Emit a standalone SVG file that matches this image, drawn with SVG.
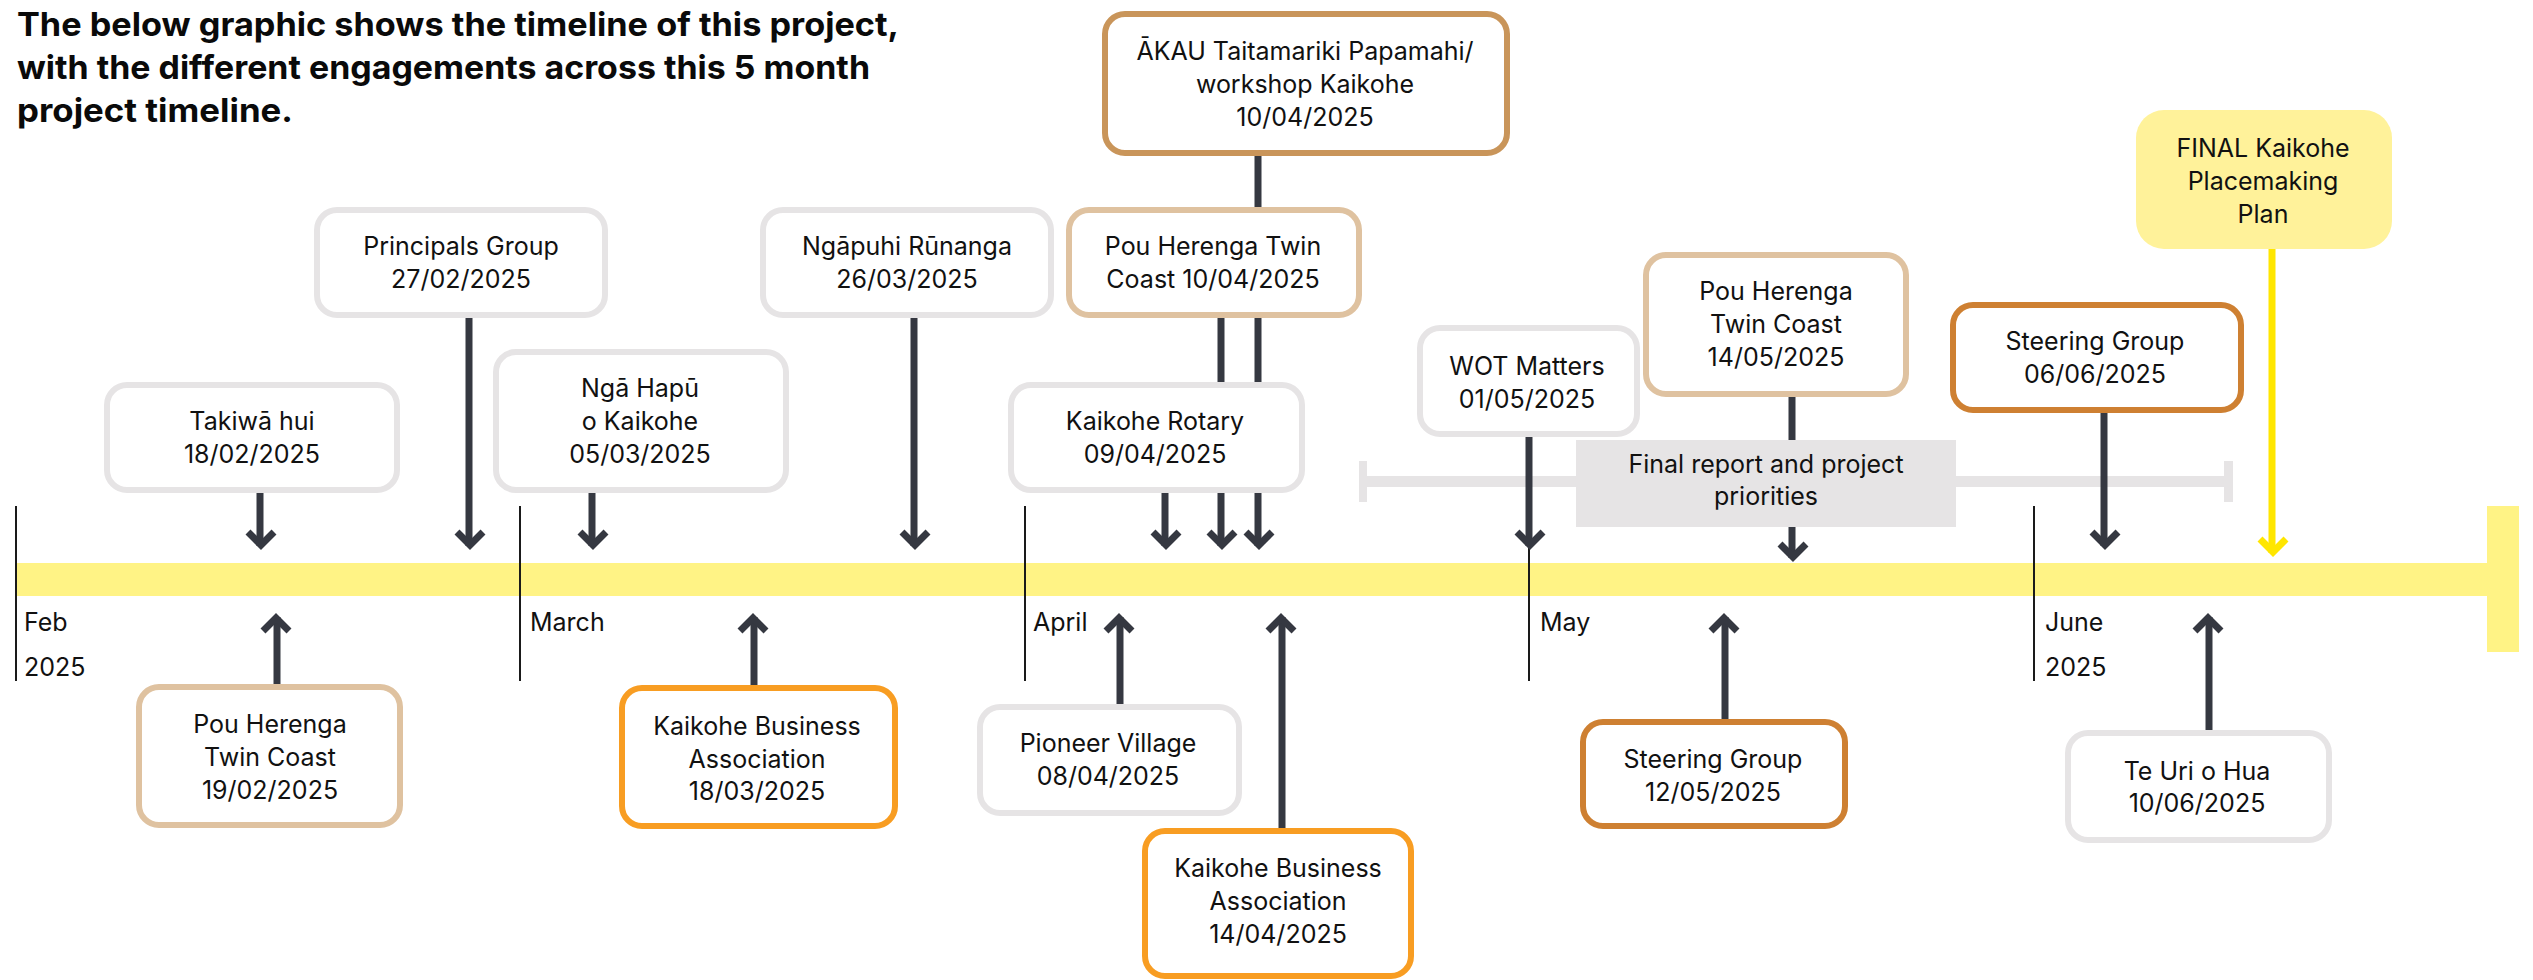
<svg xmlns="http://www.w3.org/2000/svg" width="2533" height="980" viewBox="0 0 2533 980">
<defs>
<style>
.t{font-family:Inter,"Liberation Sans",sans-serif;font-size:25px;fill:#111;text-anchor:middle}
.title{font-family:Inter,"Liberation Sans",sans-serif;font-size:33px;font-weight:700;fill:#0a0a0a}
.mon{font-family:Inter,"Liberation Sans",sans-serif;font-size:25px;fill:#111}
.box{fill:#fff;stroke-width:6}
.grey{stroke:#E6E4E5}
.tan{stroke:#DFC2A0}
.orange{stroke:#F89D22}
.bronze{stroke:#CE8032}
.akau{stroke:#C9955A}
.arr{stroke:#353841;stroke-width:7;fill:none;marker-end:url(#ah)}
.arry{stroke:#FFE600;stroke-width:7;fill:none;marker-end:url(#ahy)}
.tick{stroke:#1a1a1a;stroke-width:2}
</style>
<marker id="ah" viewBox="-20 -20 40 40" markerWidth="40" markerHeight="40" refX="0" refY="0" orient="auto" markerUnits="userSpaceOnUse">
<path d="M-14,-14 L-1,-1 L-14,12" fill="none" stroke="#353841" stroke-width="7"/>
</marker>
<marker id="ahy" viewBox="-20 -20 40 40" markerWidth="40" markerHeight="40" refX="0" refY="0" orient="auto" markerUnits="userSpaceOnUse">
<path d="M-14,-14 L-1,-1 L-14,12" fill="none" stroke="#FFE600" stroke-width="7"/>
</marker>
</defs>
<rect width="2533" height="980" fill="#fff"/>

<g id="title">
<text class="title" x="17" y="36" textLength="882" lengthAdjust="spacingAndGlyphs">The below graphic shows the timeline of this project,</text>
<text class="title" x="17" y="79" textLength="853" lengthAdjust="spacingAndGlyphs">with the different engagements across this 5 month</text>
<text class="title" x="17" y="122" textLength="276" lengthAdjust="spacingAndGlyphs">project timeline.</text>
</g>

<g id="timeline">
<rect x="16" y="563" width="2472" height="33" fill="#FFF385"/>
<rect x="2487" y="506" width="32" height="146" fill="#FFF385"/>
<line class="tick" x1="16" y1="506" x2="16" y2="681"/>
<line class="tick" x1="520" y1="506" x2="520" y2="681"/>
<line class="tick" x1="1025" y1="506" x2="1025" y2="681"/>
<line class="tick" x1="1529" y1="506" x2="1529" y2="681"/>
<line class="tick" x1="2034" y1="506" x2="2034" y2="681"/>
<text class="mon" x="24" y="631">Feb</text>
<text class="mon" x="24" y="676">2025</text>
<text class="mon" x="530" y="631">March</text>
<text class="mon" x="1033" y="631">April</text>
<text class="mon" x="1540" y="631">May</text>
<text class="mon" x="2045" y="631">June</text>
<text class="mon" x="2045" y="676">2025</text>
</g>

<g id="bracket" fill="#E6E4E5">
<rect x="1363" y="476" width="866" height="11"/>
<rect x="1359" y="461" width="8" height="41"/>
<rect x="2224" y="461" width="9" height="41"/>
</g>

<g id="connectors">
<path class="arr" d="M260,490 V546"/>
<path class="arr" d="M469,318 V546"/>
<path class="arr" d="M592,490 V546"/>
<path class="arr" d="M914,318 V546"/>
<path class="arr" d="M1165,490 V546"/>
<path class="arr" d="M1221,318 V546"/>
<path class="arr" d="M1258,156 V546"/>
<path class="arr" d="M1529,437 V546"/>
<path class="arr" d="M1792,397 V558"/>
<path class="arr" d="M2104,413 V546"/>
<path class="arry" d="M2272,249 V553"/>
<path class="arr" d="M277,684 V617"/>
<path class="arr" d="M754,685 V617"/>
<path class="arr" d="M1120,704 V617"/>
<path class="arr" d="M1282,828 V617"/>
<path class="arr" d="M1725,719 V617"/>
<path class="arr" d="M2209,730 V617"/>
</g>

<g id="n-takiwa">
<rect class="box grey" x="107" y="385" width="290" height="105" rx="20"/>
<text class="t" x="252" y="430">Takiwā hui</text>
<text class="t" x="252" y="463">18/02/2025</text>
</g>
<g id="n-principals">
<rect class="box grey" x="317" y="210" width="288" height="105" rx="20"/>
<text class="t" x="461" y="255">Principals Group</text>
<text class="t" x="461" y="288">27/02/2025</text>
</g>
<g id="n-ngahapu">
<rect class="box grey" x="496" y="352" width="290" height="138" rx="20"/>
<text class="t" x="640" y="397">Ngā Hapū</text>
<text class="t" x="640" y="430">o Kaikohe</text>
<text class="t" x="640" y="463">05/03/2025</text>
</g>
<g id="n-ngapuhi">
<rect class="box grey" x="763" y="210" width="288" height="105" rx="20"/>
<text class="t" x="907" y="255">Ngāpuhi Rūnanga</text>
<text class="t" x="907" y="288">26/03/2025</text>
</g>
<g id="n-akau">
<rect class="box akau" x="1105" y="14" width="402" height="139" rx="20"/>
<text class="t" x="1305" y="60">ĀKAU Taitamariki Papamahi/</text>
<text class="t" x="1305" y="93">workshop Kaikohe</text>
<text class="t" x="1305" y="126">10/04/2025</text>
</g>
<g id="n-pou1004">
<rect class="box tan" x="1069" y="210" width="290" height="105" rx="20"/>
<text class="t" x="1213" y="255">Pou Herenga Twin</text>
<text class="t" x="1213" y="288">Coast 10/04/2025</text>
</g>
<g id="n-rotary">
<rect class="box grey" x="1011" y="385" width="291" height="105" rx="20"/>
<text class="t" x="1155" y="430">Kaikohe Rotary</text>
<text class="t" x="1155" y="463">09/04/2025</text>
</g>
<g id="n-wot">
<rect class="box grey" x="1420" y="328" width="217" height="106" rx="20"/>
<text class="t" x="1527" y="375">WOT Matters</text>
<text class="t" x="1527" y="408">01/05/2025</text>
</g>
<g id="n-pou1405">
<rect class="box tan" x="1646" y="255" width="260" height="139" rx="20"/>
<text class="t" x="1776" y="300">Pou Herenga</text>
<text class="t" x="1776" y="333">Twin Coast</text>
<text class="t" x="1776" y="366">14/05/2025</text>
</g>
<g id="n-final-report">
<rect x="1576" y="440" width="380" height="87" fill="#E6E4E5"/>
<text class="t" x="1766" y="473">Final report and project</text>
<text class="t" x="1766" y="505">priorities</text>
</g>
<g id="n-steering0606">
<rect class="box bronze" x="1953" y="305" width="288" height="105" rx="20"/>
<text class="t" x="2095" y="350">Steering Group</text>
<text class="t" x="2095" y="383">06/06/2025</text>
</g>
<g id="n-final-plan">
<rect x="2136" y="110" width="256" height="139" rx="28" fill="#FFF29A"/>
<text class="t" x="2263" y="157">FINAL Kaikohe</text>
<text class="t" x="2263" y="190">Placemaking</text>
<text class="t" x="2263" y="223">Plan</text>
</g>
<g id="n-pou1902">
<rect class="box tan" x="139" y="687" width="261" height="138" rx="20"/>
<text class="t" x="270" y="733">Pou Herenga</text>
<text class="t" x="270" y="766">Twin Coast</text>
<text class="t" x="270" y="799">19/02/2025</text>
</g>
<g id="n-kba1803">
<rect class="box orange" x="622" y="688" width="273" height="138" rx="20"/>
<text class="t" x="757" y="735">Kaikohe Business</text>
<text class="t" x="757" y="768">Association</text>
<text class="t" x="757" y="800">18/03/2025</text>
</g>
<g id="n-pioneer">
<rect class="box grey" x="980" y="707" width="259" height="106" rx="20"/>
<text class="t" x="1108" y="752">Pioneer Village</text>
<text class="t" x="1108" y="785">08/04/2025</text>
</g>
<g id="n-kba1404">
<rect class="box orange" x="1145" y="831" width="266" height="145" rx="20"/>
<text class="t" x="1278" y="877">Kaikohe Business</text>
<text class="t" x="1278" y="910">Association</text>
<text class="t" x="1278" y="943">14/04/2025</text>
</g>
<g id="n-steering1205">
<rect class="box bronze" x="1583" y="722" width="262" height="104" rx="20"/>
<text class="t" x="1713" y="768">Steering Group</text>
<text class="t" x="1713" y="801">12/05/2025</text>
</g>
<g id="n-teuri">
<rect class="box grey" x="2068" y="733" width="261" height="107" rx="20"/>
<text class="t" x="2197" y="780">Te Uri o Hua</text>
<text class="t" x="2197" y="812">10/06/2025</text>
</g>
</svg>
